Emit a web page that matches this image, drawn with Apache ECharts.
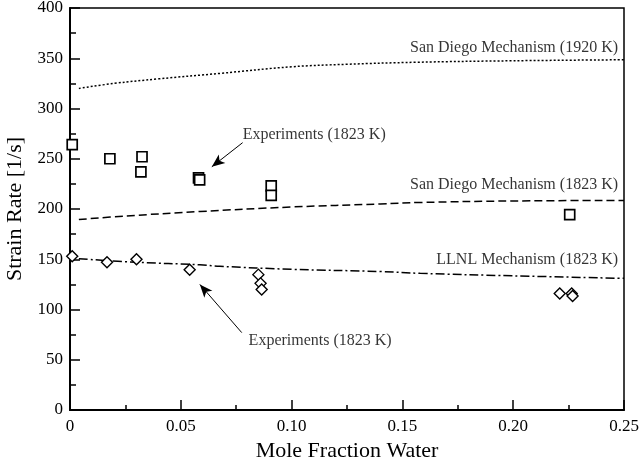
<!DOCTYPE html>
<html>
<head>
<meta charset="utf-8">
<script src="https://cdn.jsdelivr.net/npm/echarts@6/dist/echarts.min.js"></script>
<style>
html,body{margin:0;padding:0;background:#fff;}
#chart{width:639px;height:462px;}
</style>
</head>
<body>
<div id="chart"></div>
<script>
// Experiments (squares) - San Diego comparison
const expSquaresX = [0.001, 0.018, 0.0325, 0.032, 0.058, 0.0585, 0.0908, 0.0908, 0.2255];
const expSquaresY = [264, 250, 252, 237, 231, 229, 223, 213.5, 194.5];
// Experiments (diamonds) - LLNL comparison
const expDiamondsX = [0.001, 0.0167, 0.030, 0.054, 0.085, 0.086, 0.0865, 0.221, 0.2264, 0.2268];
const expDiamondsY = [153, 147, 150, 139.6, 134.7, 126, 120, 116, 116, 113.5];
// San Diego Mechanism (1920 K)
const sd1920X = [0.004, 0.02, 0.04, 0.068, 0.1, 0.125, 0.156, 0.2, 0.25];
const sd1920Y = [320, 325, 329.5, 335, 341.5, 344, 346, 347.5, 348.5];
// San Diego Mechanism (1823 K)
const sd1823X = [0.004, 0.025, 0.0586, 0.1, 0.14, 0.158, 0.2, 0.25];
const sd1823Y = [189.5, 193, 197.5, 202, 205, 206.5, 208, 208.5];
// LLNL Mechanism (1823 K)
const llnlX = [0.004, 0.03, 0.0586, 0.0676, 0.1, 0.14, 0.158, 0.2, 0.25];
const llnlY = [150.5, 147, 144.5, 143, 140, 137.8, 136, 133.5, 131];
// Axis ticks
const xTicks = [0, 0.05, 0.10, 0.15, 0.20, 0.25];
const yTicks = [0, 50, 100, 150, 200, 250, 300, 350, 400];
// Annotations
const labelTexts = ['San Diego Mechanism (1920 K)', 'San Diego Mechanism (1823 K)', 'LLNL Mechanism (1823 K)', 'Experiments (1823 K)', 'Experiments (1823 K)'];
const labelX = [0.2473, 0.2473, 0.2473, 0.0779, 0.0806];
const labelY = [360.7, 224.4, 149.8, 274, 69.2];
const labelSide = ['left', 'left', 'left', 'right', 'right'];
const arrowFromX = [0.0779, 0.0775];
const arrowFromY = [266, 77];
const arrowToX = [0.064, 0.0586];
const arrowToY = [242, 125];

const zip = (xs, ys) => xs.map((x, i) => [x, ys[i]]);
const FONT = '"Liberation Serif", "Times New Roman", serif';

const chart = echarts.init(document.getElementById('chart'));
const option = {
  animation: false,
  backgroundColor: '#fff',
  grid: {left: 70, right: 15, top: 8, bottom: 52, containLabel: false, outerBoundsMode: 'none',
    show: true, borderColor: '#000', borderWidth: 1.5, backgroundColor: 'transparent'},
  xAxis: {
    type: 'value', min: 0, max: 0.25, interval: 0.05,
    name: 'Mole Fraction Water', nameLocation: 'middle', nameGap: 26,
    nameTextStyle: {fontFamily: FONT, fontSize: 22, color: '#000'},
    axisLine: {show: true, lineStyle: {color: '#000', width: 2}},
    axisTick: {show: true, inside: true, length: 10, lineStyle: {color: '#000', width: 1.5}},
    minorTick: {show: true, splitNumber: 2, length: 5, lineStyle: {color: '#000', width: 1.5}},
    splitLine: {show: false},
    axisLabel: {fontFamily: FONT, fontSize: 17, color: '#000', margin: 8,
      formatter: v => { const t = xTicks.find(k => Math.abs(k - v) < 1e-9); return t === 0 ? '0' : (t !== undefined ? t.toFixed(2) : ''); }}
  },
  yAxis: {
    type: 'value', min: 0, max: 400, interval: 50,
    name: 'Strain Rate [1/s]', nameLocation: 'middle', nameGap: 38,
    nameTextStyle: {fontFamily: FONT, fontSize: 22, color: '#000'},
    axisLine: {show: true, lineStyle: {color: '#000', width: 2}},
    axisTick: {show: true, inside: true, length: 10, lineStyle: {color: '#000', width: 1.5}},
    minorTick: {show: true, splitNumber: 2, length: 6, lineStyle: {color: '#000', width: 1.5}},
    splitLine: {show: false},
    axisLabel: {fontFamily: FONT, fontSize: 17, color: '#000', margin: 7,
      formatter: v => { const t = yTicks.find(k => k === v); return t !== undefined ? String(t) : ''; }}
  },
  series: [
    {
      name: 'San Diego Mechanism (1920 K)', type: 'line', smooth: 0.4, showSymbol: false,
      data: zip(sd1920X, sd1920Y),
      lineStyle: {color: '#000', width: 1.5, type: [2, 2]}
    },
    {
      name: 'San Diego Mechanism (1823 K)', type: 'line', smooth: 0.4, showSymbol: false,
      data: zip(sd1823X, sd1823Y),
      lineStyle: {color: '#000', width: 1.5, type: [8, 4]}
    },
    {
      name: 'LLNL Mechanism (1823 K)', type: 'line', smooth: 0.4, showSymbol: false,
      data: zip(llnlX, llnlY),
      lineStyle: {color: '#000', width: 1.5, type: [9, 3, 2, 3]}
    },
    {
      name: 'Experiments squares', type: 'scatter', symbol: 'rect', symbolSize: 10,
      data: zip(expSquaresX, expSquaresY),
      itemStyle: {color: '#fff', borderColor: '#000', borderWidth: 1.7, opacity: 1},
      z: 5
    },
    {
      name: 'Experiments diamonds', type: 'scatter', symbol: 'diamond', symbolSize: [11, 11],
      data: zip(expDiamondsX, expDiamondsY),
      itemStyle: {color: '#fff', borderColor: '#000', borderWidth: 1.4, opacity: 1},
      z: 5
    },
    {
      name: 'annotations', type: 'scatter', symbolSize: 0, silent: true,
      data: labelTexts.map((t, i) => ({
        value: [labelX[i], labelY[i]],
        label: {show: true, formatter: t, position: labelSide[i], distance: 0,
          fontFamily: FONT, fontSize: 16, color: '#000'}
      })),
      markLine: {
        silent: true, animation: false,
        label: {show: false},
        lineStyle: {color: '#000', width: 1, type: 'solid'},
        symbol: ['none', 'arrow'], symbolSize: [8, 13],
        data: arrowFromX.map((x, i) => [
          {coord: [x, arrowFromY[i]]},
          {coord: [arrowToX[i], arrowToY[i]]}
        ])
      }
    }
  ]
};
chart.setOption(option);
</script>
</body>
</html>
